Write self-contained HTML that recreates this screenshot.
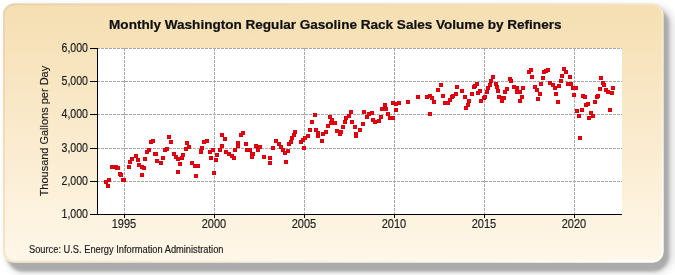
<!DOCTYPE html>
<html><head><meta charset="utf-8"><style>
html,body{margin:0;padding:0;background:#fff;width:675px;height:275px;overflow:hidden}
svg{display:block;will-change:transform}
text{font-family:"Liberation Sans",sans-serif}
</style></head><body>
<svg width="675" height="275" viewBox="0 0 675 275">
<defs>
<linearGradient id="bg" x1="0" y1="0" x2="0" y2="1">
<stop offset="0" stop-color="#f5deb1"/>
<stop offset="1" stop-color="#fff7e9"/>
</linearGradient>
<linearGradient id="rim" x1="0" y1="0" x2="1" y2="1">
<stop offset="0" stop-color="#e6d6ae"/>
<stop offset="0.45" stop-color="#f2e4c6"/>
<stop offset="1" stop-color="#ffffff"/>
</linearGradient>
<filter id="sh" x="-5%" y="-10%" width="115%" height="130%"><feGaussianBlur stdDeviation="3.5"/></filter>
<filter id="sh2" x="-5%" y="-10%" width="115%" height="130%"><feGaussianBlur stdDeviation="1.8"/></filter>
<filter id="soft" x="-2%" y="-2%" width="104%" height="104%"><feGaussianBlur stdDeviation="0.6"/></filter>
</defs>
<rect x="6" y="6" width="667" height="267" rx="18" ry="18" fill="#dadada" filter="url(#sh)"/>
<rect x="7" y="8" width="662" height="263.5" rx="16" ry="16" fill="#ababab" filter="url(#sh2)"/>
<g filter="url(#soft)">
<rect x="3" y="3.5" width="660.5" height="259" rx="11" ry="11" fill="url(#bg)"/>
<rect x="4" y="4.5" width="658.5" height="257" rx="10" ry="10" fill="none" stroke="url(#rim)" stroke-width="2"/>
</g>
<rect x="97" y="48" width="525" height="166" fill="#fff"/>
<g stroke="#a8a8a8" stroke-width="1" stroke-dasharray="3 1" fill="none">
<line x1="124.5" y1="48" x2="124.5" y2="214" /><line x1="214.5" y1="48" x2="214.5" y2="214" /><line x1="304.5" y1="48" x2="304.5" y2="214" /><line x1="394.5" y1="48" x2="394.5" y2="214" /><line x1="484.5" y1="48" x2="484.5" y2="214" /><line x1="574.5" y1="48" x2="574.5" y2="214" /><line x1="97" y1="181.5" x2="622" y2="181.5" /><line x1="97" y1="148.5" x2="622" y2="148.5" /><line x1="97" y1="114.5" x2="622" y2="114.5" /><line x1="97" y1="81.5" x2="622" y2="81.5" /><line x1="97" y1="48.5" x2="622" y2="48.5" />
</g>
<g fill="#f80010" shape-rendering="crispEdges">
<rect x="104" y="180" width="4" height="4" fill="#d2000f"/><rect x="105" y="181" width="2" height="2"/><rect x="106" y="184" width="4" height="4" fill="#d2000f"/><rect x="107" y="185" width="2" height="2"/><rect x="107" y="178" width="4" height="4" fill="#d2000f"/><rect x="108" y="179" width="2" height="2"/><rect x="110" y="165" width="4" height="4" fill="#d2000f"/><rect x="111" y="166" width="2" height="2"/><rect x="112" y="165" width="4" height="4" fill="#d2000f"/><rect x="113" y="166" width="2" height="2"/><rect x="114" y="165" width="4" height="4" fill="#d2000f"/><rect x="115" y="166" width="2" height="2"/><rect x="115" y="166" width="4" height="4" fill="#d2000f"/><rect x="116" y="167" width="2" height="2"/><rect x="116" y="166" width="4" height="4" fill="#d2000f"/><rect x="117" y="167" width="2" height="2"/><rect x="118" y="172" width="4" height="4" fill="#d2000f"/><rect x="119" y="173" width="2" height="2"/><rect x="119" y="173" width="4" height="4" fill="#d2000f"/><rect x="120" y="174" width="2" height="2"/><rect x="121" y="178" width="4" height="4" fill="#d2000f"/><rect x="122" y="179" width="2" height="2"/><rect x="122" y="178" width="4" height="4" fill="#d2000f"/><rect x="123" y="179" width="2" height="2"/><rect x="127" y="165" width="4" height="4" fill="#d2000f"/><rect x="128" y="166" width="2" height="2"/><rect x="128" y="160" width="4" height="4" fill="#d2000f"/><rect x="129" y="161" width="2" height="2"/><rect x="130" y="157" width="4" height="4" fill="#d2000f"/><rect x="131" y="158" width="2" height="2"/><rect x="134" y="154" width="4" height="4" fill="#d2000f"/><rect x="135" y="155" width="2" height="2"/><rect x="136" y="158" width="4" height="4" fill="#d2000f"/><rect x="137" y="159" width="2" height="2"/><rect x="137" y="163" width="4" height="4" fill="#d2000f"/><rect x="138" y="164" width="2" height="2"/><rect x="140" y="165" width="4" height="4" fill="#d2000f"/><rect x="141" y="166" width="2" height="2"/><rect x="140" y="173" width="4" height="4" fill="#d2000f"/><rect x="141" y="174" width="2" height="2"/><rect x="142" y="166" width="4" height="4" fill="#d2000f"/><rect x="143" y="167" width="2" height="2"/><rect x="143" y="157" width="4" height="4" fill="#d2000f"/><rect x="144" y="158" width="2" height="2"/><rect x="145" y="150" width="4" height="4" fill="#d2000f"/><rect x="146" y="151" width="2" height="2"/><rect x="147" y="148" width="4" height="4" fill="#d2000f"/><rect x="148" y="149" width="2" height="2"/><rect x="149" y="140" width="4" height="4" fill="#d2000f"/><rect x="150" y="141" width="2" height="2"/><rect x="151" y="139" width="4" height="4" fill="#d2000f"/><rect x="152" y="140" width="2" height="2"/><rect x="153" y="152" width="4" height="4" fill="#d2000f"/><rect x="154" y="153" width="2" height="2"/><rect x="154" y="152" width="4" height="4" fill="#d2000f"/><rect x="155" y="153" width="2" height="2"/><rect x="155" y="159" width="4" height="4" fill="#d2000f"/><rect x="156" y="160" width="2" height="2"/><rect x="159" y="161" width="4" height="4" fill="#d2000f"/><rect x="160" y="162" width="2" height="2"/><rect x="161" y="156" width="4" height="4" fill="#d2000f"/><rect x="162" y="157" width="2" height="2"/><rect x="163" y="148" width="4" height="4" fill="#d2000f"/><rect x="164" y="149" width="2" height="2"/><rect x="165" y="147" width="4" height="4" fill="#d2000f"/><rect x="166" y="148" width="2" height="2"/><rect x="167" y="135" width="4" height="4" fill="#d2000f"/><rect x="168" y="136" width="2" height="2"/><rect x="169" y="140" width="4" height="4" fill="#d2000f"/><rect x="170" y="141" width="2" height="2"/><rect x="172" y="152" width="4" height="4" fill="#d2000f"/><rect x="173" y="153" width="2" height="2"/><rect x="174" y="155" width="4" height="4" fill="#d2000f"/><rect x="175" y="156" width="2" height="2"/><rect x="176" y="170" width="4" height="4" fill="#d2000f"/><rect x="177" y="171" width="2" height="2"/><rect x="176" y="157" width="4" height="4" fill="#d2000f"/><rect x="177" y="158" width="2" height="2"/><rect x="178" y="162" width="4" height="4" fill="#d2000f"/><rect x="179" y="163" width="2" height="2"/><rect x="180" y="156" width="4" height="4" fill="#d2000f"/><rect x="181" y="157" width="2" height="2"/><rect x="181" y="153" width="4" height="4" fill="#d2000f"/><rect x="182" y="154" width="2" height="2"/><rect x="184" y="147" width="4" height="4" fill="#d2000f"/><rect x="185" y="148" width="2" height="2"/><rect x="185" y="141" width="4" height="4" fill="#d2000f"/><rect x="186" y="142" width="2" height="2"/><rect x="187" y="145" width="4" height="4" fill="#d2000f"/><rect x="188" y="146" width="2" height="2"/><rect x="190" y="161" width="4" height="4" fill="#d2000f"/><rect x="191" y="162" width="2" height="2"/><rect x="193" y="164" width="4" height="4" fill="#d2000f"/><rect x="194" y="165" width="2" height="2"/><rect x="194" y="174" width="4" height="4" fill="#d2000f"/><rect x="195" y="175" width="2" height="2"/><rect x="196" y="164" width="4" height="4" fill="#d2000f"/><rect x="197" y="165" width="2" height="2"/><rect x="199" y="150" width="4" height="4" fill="#d2000f"/><rect x="200" y="151" width="2" height="2"/><rect x="199" y="149" width="4" height="4" fill="#d2000f"/><rect x="200" y="150" width="2" height="2"/><rect x="200" y="146" width="4" height="4" fill="#d2000f"/><rect x="201" y="147" width="2" height="2"/><rect x="202" y="140" width="4" height="4" fill="#d2000f"/><rect x="203" y="141" width="2" height="2"/><rect x="205" y="139" width="4" height="4" fill="#d2000f"/><rect x="206" y="140" width="2" height="2"/><rect x="208" y="150" width="4" height="4" fill="#d2000f"/><rect x="209" y="151" width="2" height="2"/><rect x="209" y="156" width="4" height="4" fill="#d2000f"/><rect x="210" y="157" width="2" height="2"/><rect x="211" y="148" width="4" height="4" fill="#d2000f"/><rect x="212" y="149" width="2" height="2"/><rect x="212" y="171" width="4" height="4" fill="#d2000f"/><rect x="213" y="172" width="2" height="2"/><rect x="214" y="158" width="4" height="4" fill="#d2000f"/><rect x="215" y="159" width="2" height="2"/><rect x="215" y="153" width="4" height="4" fill="#d2000f"/><rect x="216" y="154" width="2" height="2"/><rect x="218" y="148" width="4" height="4" fill="#d2000f"/><rect x="219" y="149" width="2" height="2"/><rect x="220" y="144" width="4" height="4" fill="#d2000f"/><rect x="221" y="145" width="2" height="2"/><rect x="220" y="133" width="4" height="4" fill="#d2000f"/><rect x="221" y="134" width="2" height="2"/><rect x="223" y="137" width="4" height="4" fill="#d2000f"/><rect x="224" y="138" width="2" height="2"/><rect x="224" y="150" width="4" height="4" fill="#d2000f"/><rect x="225" y="151" width="2" height="2"/><rect x="227" y="152" width="4" height="4" fill="#d2000f"/><rect x="228" y="153" width="2" height="2"/><rect x="230" y="154" width="4" height="4" fill="#d2000f"/><rect x="231" y="155" width="2" height="2"/><rect x="232" y="156" width="4" height="4" fill="#d2000f"/><rect x="233" y="157" width="2" height="2"/><rect x="233" y="148" width="4" height="4" fill="#d2000f"/><rect x="234" y="149" width="2" height="2"/><rect x="236" y="144" width="4" height="4" fill="#d2000f"/><rect x="237" y="145" width="2" height="2"/><rect x="236" y="141" width="4" height="4" fill="#d2000f"/><rect x="237" y="142" width="2" height="2"/><rect x="239" y="133" width="4" height="4" fill="#d2000f"/><rect x="240" y="134" width="2" height="2"/><rect x="241" y="131" width="4" height="4" fill="#d2000f"/><rect x="242" y="132" width="2" height="2"/><rect x="244" y="142" width="4" height="4" fill="#d2000f"/><rect x="245" y="143" width="2" height="2"/><rect x="245" y="148" width="4" height="4" fill="#d2000f"/><rect x="246" y="149" width="2" height="2"/><rect x="248" y="148" width="4" height="4" fill="#d2000f"/><rect x="249" y="149" width="2" height="2"/><rect x="250" y="155" width="4" height="4" fill="#d2000f"/><rect x="251" y="156" width="2" height="2"/><rect x="250" y="152" width="4" height="4" fill="#d2000f"/><rect x="251" y="153" width="2" height="2"/><rect x="251" y="152" width="4" height="4" fill="#d2000f"/><rect x="252" y="153" width="2" height="2"/><rect x="254" y="144" width="4" height="4" fill="#d2000f"/><rect x="255" y="145" width="2" height="2"/><rect x="256" y="148" width="4" height="4" fill="#d2000f"/><rect x="257" y="149" width="2" height="2"/><rect x="258" y="145" width="4" height="4" fill="#d2000f"/><rect x="259" y="146" width="2" height="2"/><rect x="262" y="155" width="4" height="4" fill="#d2000f"/><rect x="263" y="156" width="2" height="2"/><rect x="268" y="161" width="4" height="4" fill="#d2000f"/><rect x="269" y="162" width="2" height="2"/><rect x="268" y="156" width="4" height="4" fill="#d2000f"/><rect x="269" y="157" width="2" height="2"/><rect x="271" y="146" width="4" height="4" fill="#d2000f"/><rect x="272" y="147" width="2" height="2"/><rect x="274" y="139" width="4" height="4" fill="#d2000f"/><rect x="275" y="140" width="2" height="2"/><rect x="277" y="142" width="4" height="4" fill="#d2000f"/><rect x="278" y="143" width="2" height="2"/><rect x="279" y="145" width="4" height="4" fill="#d2000f"/><rect x="280" y="146" width="2" height="2"/><rect x="281" y="148" width="4" height="4" fill="#d2000f"/><rect x="282" y="149" width="2" height="2"/><rect x="283" y="151" width="4" height="4" fill="#d2000f"/><rect x="284" y="152" width="2" height="2"/><rect x="284" y="160" width="4" height="4" fill="#d2000f"/><rect x="285" y="161" width="2" height="2"/><rect x="286" y="149" width="4" height="4" fill="#d2000f"/><rect x="287" y="150" width="2" height="2"/><rect x="287" y="142" width="4" height="4" fill="#d2000f"/><rect x="288" y="143" width="2" height="2"/><rect x="289" y="140" width="4" height="4" fill="#d2000f"/><rect x="290" y="141" width="2" height="2"/><rect x="290" y="136" width="4" height="4" fill="#d2000f"/><rect x="291" y="137" width="2" height="2"/><rect x="292" y="133" width="4" height="4" fill="#d2000f"/><rect x="293" y="134" width="2" height="2"/><rect x="293" y="130" width="4" height="4" fill="#d2000f"/><rect x="294" y="131" width="2" height="2"/><rect x="299" y="140" width="4" height="4" fill="#d2000f"/><rect x="300" y="141" width="2" height="2"/><rect x="301" y="138" width="4" height="4" fill="#d2000f"/><rect x="302" y="139" width="2" height="2"/><rect x="302" y="146" width="4" height="4" fill="#d2000f"/><rect x="303" y="147" width="2" height="2"/><rect x="303" y="136" width="4" height="4" fill="#d2000f"/><rect x="304" y="137" width="2" height="2"/><rect x="306" y="134" width="4" height="4" fill="#d2000f"/><rect x="307" y="135" width="2" height="2"/><rect x="308" y="128" width="4" height="4" fill="#d2000f"/><rect x="309" y="129" width="2" height="2"/><rect x="310" y="120" width="4" height="4" fill="#d2000f"/><rect x="311" y="121" width="2" height="2"/><rect x="313" y="113" width="4" height="4" fill="#d2000f"/><rect x="314" y="114" width="2" height="2"/><rect x="314" y="128" width="4" height="4" fill="#d2000f"/><rect x="315" y="129" width="2" height="2"/><rect x="316" y="134" width="4" height="4" fill="#d2000f"/><rect x="317" y="135" width="2" height="2"/><rect x="316" y="131" width="4" height="4" fill="#d2000f"/><rect x="317" y="132" width="2" height="2"/><rect x="320" y="139" width="4" height="4" fill="#d2000f"/><rect x="321" y="140" width="2" height="2"/><rect x="321" y="132" width="4" height="4" fill="#d2000f"/><rect x="322" y="133" width="2" height="2"/><rect x="324" y="130" width="4" height="4" fill="#d2000f"/><rect x="325" y="131" width="2" height="2"/><rect x="326" y="124" width="4" height="4" fill="#d2000f"/><rect x="327" y="125" width="2" height="2"/><rect x="328" y="115" width="4" height="4" fill="#d2000f"/><rect x="329" y="116" width="2" height="2"/><rect x="329" y="121" width="4" height="4" fill="#d2000f"/><rect x="330" y="122" width="2" height="2"/><rect x="330" y="118" width="4" height="4" fill="#d2000f"/><rect x="331" y="119" width="2" height="2"/><rect x="333" y="121" width="4" height="4" fill="#d2000f"/><rect x="334" y="122" width="2" height="2"/><rect x="335" y="129" width="4" height="4" fill="#d2000f"/><rect x="336" y="130" width="2" height="2"/><rect x="338" y="132" width="4" height="4" fill="#d2000f"/><rect x="339" y="133" width="2" height="2"/><rect x="339" y="130" width="4" height="4" fill="#d2000f"/><rect x="340" y="131" width="2" height="2"/><rect x="341" y="125" width="4" height="4" fill="#d2000f"/><rect x="342" y="126" width="2" height="2"/><rect x="343" y="120" width="4" height="4" fill="#d2000f"/><rect x="344" y="121" width="2" height="2"/><rect x="344" y="116" width="4" height="4" fill="#d2000f"/><rect x="345" y="117" width="2" height="2"/><rect x="347" y="114" width="4" height="4" fill="#d2000f"/><rect x="348" y="115" width="2" height="2"/><rect x="349" y="110" width="4" height="4" fill="#d2000f"/><rect x="350" y="111" width="2" height="2"/><rect x="350" y="120" width="4" height="4" fill="#d2000f"/><rect x="351" y="121" width="2" height="2"/><rect x="353" y="125" width="4" height="4" fill="#d2000f"/><rect x="354" y="126" width="2" height="2"/><rect x="354" y="134" width="4" height="4" fill="#d2000f"/><rect x="355" y="135" width="2" height="2"/><rect x="354" y="132" width="4" height="4" fill="#d2000f"/><rect x="355" y="133" width="2" height="2"/><rect x="354" y="133" width="4" height="4" fill="#d2000f"/><rect x="355" y="134" width="2" height="2"/><rect x="358" y="128" width="4" height="4" fill="#d2000f"/><rect x="359" y="129" width="2" height="2"/><rect x="361" y="122" width="4" height="4" fill="#d2000f"/><rect x="362" y="123" width="2" height="2"/><rect x="362" y="110" width="4" height="4" fill="#d2000f"/><rect x="363" y="111" width="2" height="2"/><rect x="365" y="115" width="4" height="4" fill="#d2000f"/><rect x="366" y="116" width="2" height="2"/><rect x="367" y="112" width="4" height="4" fill="#d2000f"/><rect x="368" y="113" width="2" height="2"/><rect x="370" y="111" width="4" height="4" fill="#d2000f"/><rect x="371" y="112" width="2" height="2"/><rect x="371" y="118" width="4" height="4" fill="#d2000f"/><rect x="372" y="119" width="2" height="2"/><rect x="373" y="120" width="4" height="4" fill="#d2000f"/><rect x="374" y="121" width="2" height="2"/><rect x="377" y="119" width="4" height="4" fill="#d2000f"/><rect x="378" y="120" width="2" height="2"/><rect x="379" y="115" width="4" height="4" fill="#d2000f"/><rect x="380" y="116" width="2" height="2"/><rect x="380" y="107" width="4" height="4" fill="#d2000f"/><rect x="381" y="108" width="2" height="2"/><rect x="383" y="103" width="4" height="4" fill="#d2000f"/><rect x="384" y="104" width="2" height="2"/><rect x="384" y="107" width="4" height="4" fill="#d2000f"/><rect x="385" y="108" width="2" height="2"/><rect x="386" y="112" width="4" height="4" fill="#d2000f"/><rect x="387" y="113" width="2" height="2"/><rect x="388" y="116" width="4" height="4" fill="#d2000f"/><rect x="389" y="117" width="2" height="2"/><rect x="391" y="101" width="4" height="4" fill="#d2000f"/><rect x="392" y="102" width="2" height="2"/><rect x="391" y="116" width="4" height="4" fill="#d2000f"/><rect x="392" y="117" width="2" height="2"/><rect x="394" y="102" width="4" height="4" fill="#d2000f"/><rect x="395" y="103" width="2" height="2"/><rect x="394" y="108" width="4" height="4" fill="#d2000f"/><rect x="395" y="109" width="2" height="2"/><rect x="397" y="101" width="4" height="4" fill="#d2000f"/><rect x="398" y="102" width="2" height="2"/><rect x="406" y="100" width="4" height="4" fill="#d2000f"/><rect x="407" y="101" width="2" height="2"/><rect x="416" y="95" width="4" height="4" fill="#d2000f"/><rect x="417" y="96" width="2" height="2"/><rect x="425" y="95" width="4" height="4" fill="#d2000f"/><rect x="426" y="96" width="2" height="2"/><rect x="428" y="94" width="4" height="4" fill="#d2000f"/><rect x="429" y="95" width="2" height="2"/><rect x="428" y="112" width="4" height="4" fill="#d2000f"/><rect x="429" y="113" width="2" height="2"/><rect x="430" y="96" width="4" height="4" fill="#d2000f"/><rect x="431" y="97" width="2" height="2"/><rect x="432" y="100" width="4" height="4" fill="#d2000f"/><rect x="433" y="101" width="2" height="2"/><rect x="436" y="88" width="4" height="4" fill="#d2000f"/><rect x="437" y="89" width="2" height="2"/><rect x="439" y="83" width="4" height="4" fill="#d2000f"/><rect x="440" y="84" width="2" height="2"/><rect x="441" y="94" width="4" height="4" fill="#d2000f"/><rect x="442" y="95" width="2" height="2"/><rect x="443" y="101" width="4" height="4" fill="#d2000f"/><rect x="444" y="102" width="2" height="2"/><rect x="446" y="101" width="4" height="4" fill="#d2000f"/><rect x="447" y="102" width="2" height="2"/><rect x="448" y="98" width="4" height="4" fill="#d2000f"/><rect x="449" y="99" width="2" height="2"/><rect x="450" y="95" width="4" height="4" fill="#d2000f"/><rect x="451" y="96" width="2" height="2"/><rect x="451" y="94" width="4" height="4" fill="#d2000f"/><rect x="452" y="95" width="2" height="2"/><rect x="454" y="92" width="4" height="4" fill="#d2000f"/><rect x="455" y="93" width="2" height="2"/><rect x="455" y="85" width="4" height="4" fill="#d2000f"/><rect x="456" y="86" width="2" height="2"/><rect x="460" y="89" width="4" height="4" fill="#d2000f"/><rect x="461" y="90" width="2" height="2"/><rect x="463" y="95" width="4" height="4" fill="#d2000f"/><rect x="464" y="96" width="2" height="2"/><rect x="464" y="106" width="4" height="4" fill="#d2000f"/><rect x="465" y="107" width="2" height="2"/><rect x="466" y="103" width="4" height="4" fill="#d2000f"/><rect x="467" y="104" width="2" height="2"/><rect x="467" y="99" width="4" height="4" fill="#d2000f"/><rect x="468" y="100" width="2" height="2"/><rect x="470" y="92" width="4" height="4" fill="#d2000f"/><rect x="471" y="93" width="2" height="2"/><rect x="472" y="85" width="4" height="4" fill="#d2000f"/><rect x="473" y="86" width="2" height="2"/><rect x="473" y="84" width="4" height="4" fill="#d2000f"/><rect x="474" y="85" width="2" height="2"/><rect x="475" y="82" width="4" height="4" fill="#d2000f"/><rect x="476" y="83" width="2" height="2"/><rect x="476" y="91" width="4" height="4" fill="#d2000f"/><rect x="477" y="92" width="2" height="2"/><rect x="478" y="89" width="4" height="4" fill="#d2000f"/><rect x="479" y="90" width="2" height="2"/><rect x="479" y="99" width="4" height="4" fill="#d2000f"/><rect x="480" y="100" width="2" height="2"/><rect x="482" y="96" width="4" height="4" fill="#d2000f"/><rect x="483" y="97" width="2" height="2"/><rect x="483" y="95" width="4" height="4" fill="#d2000f"/><rect x="484" y="96" width="2" height="2"/><rect x="485" y="90" width="4" height="4" fill="#d2000f"/><rect x="486" y="91" width="2" height="2"/><rect x="486" y="86" width="4" height="4" fill="#d2000f"/><rect x="487" y="87" width="2" height="2"/><rect x="488" y="83" width="4" height="4" fill="#d2000f"/><rect x="489" y="84" width="2" height="2"/><rect x="489" y="79" width="4" height="4" fill="#d2000f"/><rect x="490" y="80" width="2" height="2"/><rect x="491" y="75" width="4" height="4" fill="#d2000f"/><rect x="492" y="76" width="2" height="2"/><rect x="494" y="82" width="4" height="4" fill="#d2000f"/><rect x="495" y="83" width="2" height="2"/><rect x="495" y="85" width="4" height="4" fill="#d2000f"/><rect x="496" y="86" width="2" height="2"/><rect x="496" y="89" width="4" height="4" fill="#d2000f"/><rect x="497" y="90" width="2" height="2"/><rect x="497" y="95" width="4" height="4" fill="#d2000f"/><rect x="498" y="96" width="2" height="2"/><rect x="500" y="99" width="4" height="4" fill="#d2000f"/><rect x="501" y="100" width="2" height="2"/><rect x="501" y="96" width="4" height="4" fill="#d2000f"/><rect x="502" y="97" width="2" height="2"/><rect x="502" y="96" width="4" height="4" fill="#d2000f"/><rect x="503" y="97" width="2" height="2"/><rect x="503" y="90" width="4" height="4" fill="#d2000f"/><rect x="504" y="91" width="2" height="2"/><rect x="505" y="87" width="4" height="4" fill="#d2000f"/><rect x="506" y="88" width="2" height="2"/><rect x="508" y="77" width="4" height="4" fill="#d2000f"/><rect x="509" y="78" width="2" height="2"/><rect x="509" y="79" width="4" height="4" fill="#d2000f"/><rect x="510" y="80" width="2" height="2"/><rect x="512" y="85" width="4" height="4" fill="#d2000f"/><rect x="513" y="86" width="2" height="2"/><rect x="515" y="86" width="4" height="4" fill="#d2000f"/><rect x="516" y="87" width="2" height="2"/><rect x="515" y="90" width="4" height="4" fill="#d2000f"/><rect x="516" y="91" width="2" height="2"/><rect x="518" y="90" width="4" height="4" fill="#d2000f"/><rect x="519" y="91" width="2" height="2"/><rect x="518" y="99" width="4" height="4" fill="#d2000f"/><rect x="519" y="100" width="2" height="2"/><rect x="520" y="95" width="4" height="4" fill="#d2000f"/><rect x="521" y="96" width="2" height="2"/><rect x="521" y="86" width="4" height="4" fill="#d2000f"/><rect x="522" y="87" width="2" height="2"/><rect x="527" y="70" width="4" height="4" fill="#d2000f"/><rect x="528" y="71" width="2" height="2"/><rect x="529" y="68" width="4" height="4" fill="#d2000f"/><rect x="530" y="69" width="2" height="2"/><rect x="530" y="75" width="4" height="4" fill="#d2000f"/><rect x="531" y="76" width="2" height="2"/><rect x="533" y="85" width="4" height="4" fill="#d2000f"/><rect x="534" y="86" width="2" height="2"/><rect x="535" y="88" width="4" height="4" fill="#d2000f"/><rect x="536" y="89" width="2" height="2"/><rect x="536" y="97" width="4" height="4" fill="#d2000f"/><rect x="537" y="98" width="2" height="2"/><rect x="538" y="92" width="4" height="4" fill="#d2000f"/><rect x="539" y="93" width="2" height="2"/><rect x="539" y="82" width="4" height="4" fill="#d2000f"/><rect x="540" y="83" width="2" height="2"/><rect x="541" y="76" width="4" height="4" fill="#d2000f"/><rect x="542" y="77" width="2" height="2"/><rect x="542" y="70" width="4" height="4" fill="#d2000f"/><rect x="543" y="71" width="2" height="2"/><rect x="544" y="69" width="4" height="4" fill="#d2000f"/><rect x="545" y="70" width="2" height="2"/><rect x="546" y="68" width="4" height="4" fill="#d2000f"/><rect x="547" y="69" width="2" height="2"/><rect x="548" y="81" width="4" height="4" fill="#d2000f"/><rect x="549" y="82" width="2" height="2"/><rect x="551" y="83" width="4" height="4" fill="#d2000f"/><rect x="552" y="84" width="2" height="2"/><rect x="553" y="86" width="4" height="4" fill="#d2000f"/><rect x="554" y="87" width="2" height="2"/><rect x="554" y="92" width="4" height="4" fill="#d2000f"/><rect x="555" y="93" width="2" height="2"/><rect x="556" y="100" width="4" height="4" fill="#d2000f"/><rect x="557" y="101" width="2" height="2"/><rect x="557" y="84" width="4" height="4" fill="#d2000f"/><rect x="558" y="85" width="2" height="2"/><rect x="559" y="79" width="4" height="4" fill="#d2000f"/><rect x="560" y="80" width="2" height="2"/><rect x="560" y="74" width="4" height="4" fill="#d2000f"/><rect x="561" y="75" width="2" height="2"/><rect x="562" y="67" width="4" height="4" fill="#d2000f"/><rect x="563" y="68" width="2" height="2"/><rect x="564" y="70" width="4" height="4" fill="#d2000f"/><rect x="565" y="71" width="2" height="2"/><rect x="566" y="82" width="4" height="4" fill="#d2000f"/><rect x="567" y="83" width="2" height="2"/><rect x="568" y="75" width="4" height="4" fill="#d2000f"/><rect x="569" y="76" width="2" height="2"/><rect x="569" y="82" width="4" height="4" fill="#d2000f"/><rect x="570" y="83" width="2" height="2"/><rect x="571" y="86" width="4" height="4" fill="#d2000f"/><rect x="572" y="87" width="2" height="2"/><rect x="572" y="93" width="4" height="4" fill="#d2000f"/><rect x="573" y="94" width="2" height="2"/><rect x="574" y="86" width="4" height="4" fill="#d2000f"/><rect x="575" y="87" width="2" height="2"/><rect x="575" y="109" width="4" height="4" fill="#d2000f"/><rect x="576" y="110" width="2" height="2"/><rect x="577" y="114" width="4" height="4" fill="#d2000f"/><rect x="578" y="115" width="2" height="2"/><rect x="578" y="136" width="4" height="4" fill="#d2000f"/><rect x="579" y="137" width="2" height="2"/><rect x="580" y="108" width="4" height="4" fill="#d2000f"/><rect x="581" y="109" width="2" height="2"/><rect x="581" y="94" width="4" height="4" fill="#d2000f"/><rect x="582" y="95" width="2" height="2"/><rect x="583" y="95" width="4" height="4" fill="#d2000f"/><rect x="584" y="96" width="2" height="2"/><rect x="584" y="103" width="4" height="4" fill="#d2000f"/><rect x="585" y="104" width="2" height="2"/><rect x="586" y="102" width="4" height="4" fill="#d2000f"/><rect x="587" y="103" width="2" height="2"/><rect x="587" y="116" width="4" height="4" fill="#d2000f"/><rect x="588" y="117" width="2" height="2"/><rect x="589" y="111" width="4" height="4" fill="#d2000f"/><rect x="590" y="112" width="2" height="2"/><rect x="591" y="114" width="4" height="4" fill="#d2000f"/><rect x="592" y="115" width="2" height="2"/><rect x="593" y="100" width="4" height="4" fill="#d2000f"/><rect x="594" y="101" width="2" height="2"/><rect x="595" y="95" width="4" height="4" fill="#d2000f"/><rect x="596" y="96" width="2" height="2"/><rect x="596" y="94" width="4" height="4" fill="#d2000f"/><rect x="597" y="95" width="2" height="2"/><rect x="598" y="87" width="4" height="4" fill="#d2000f"/><rect x="599" y="88" width="2" height="2"/><rect x="599" y="76" width="4" height="4" fill="#d2000f"/><rect x="600" y="77" width="2" height="2"/><rect x="601" y="81" width="4" height="4" fill="#d2000f"/><rect x="602" y="82" width="2" height="2"/><rect x="602" y="83" width="4" height="4" fill="#d2000f"/><rect x="603" y="84" width="2" height="2"/><rect x="604" y="88" width="4" height="4" fill="#d2000f"/><rect x="605" y="89" width="2" height="2"/><rect x="606" y="90" width="4" height="4" fill="#d2000f"/><rect x="607" y="91" width="2" height="2"/><rect x="608" y="108" width="4" height="4" fill="#d2000f"/><rect x="609" y="109" width="2" height="2"/><rect x="610" y="91" width="4" height="4" fill="#d2000f"/><rect x="611" y="92" width="2" height="2"/><rect x="611" y="86" width="4" height="4" fill="#d2000f"/><rect x="612" y="87" width="2" height="2"/>
</g>
<g stroke="#000" stroke-width="1" fill="none" shape-rendering="crispEdges">
<line x1="97.5" y1="48" x2="97.5" y2="215"/>
<line x1="97" y1="214.5" x2="622" y2="214.5"/>
<line x1="90" y1="214.5" x2="97" y2="214.5" /><line x1="90" y1="181.5" x2="97" y2="181.5" /><line x1="90" y1="148.5" x2="97" y2="148.5" /><line x1="90" y1="114.5" x2="97" y2="114.5" /><line x1="90" y1="81.5" x2="97" y2="81.5" /><line x1="90" y1="48.5" x2="97" y2="48.5" /><line x1="124.5" y1="214" x2="124.5" y2="218" /><line x1="214.5" y1="214" x2="214.5" y2="218" /><line x1="304.5" y1="214" x2="304.5" y2="218" /><line x1="394.5" y1="214" x2="394.5" y2="218" /><line x1="484.5" y1="214" x2="484.5" y2="218" /><line x1="574.5" y1="214" x2="574.5" y2="218" />
</g>
<g font-size="12" fill="#1a1a1a" stroke="#1a1a1a" stroke-width="0.15">
<text x="88" y="218" text-anchor="end" textLength="26.5" lengthAdjust="spacingAndGlyphs">1,000</text><text x="88" y="185" text-anchor="end" textLength="26.5" lengthAdjust="spacingAndGlyphs">2,000</text><text x="88" y="152" text-anchor="end" textLength="26.5" lengthAdjust="spacingAndGlyphs">3,000</text><text x="88" y="118" text-anchor="end" textLength="26.5" lengthAdjust="spacingAndGlyphs">4,000</text><text x="88" y="85" text-anchor="end" textLength="26.5" lengthAdjust="spacingAndGlyphs">5,000</text><text x="88" y="52" text-anchor="end" textLength="26.5" lengthAdjust="spacingAndGlyphs">6,000</text><text x="124" y="227.5" text-anchor="middle" textLength="24.5" lengthAdjust="spacingAndGlyphs">1995</text><text x="214" y="227.5" text-anchor="middle" textLength="24.5" lengthAdjust="spacingAndGlyphs">2000</text><text x="304" y="227.5" text-anchor="middle" textLength="24.5" lengthAdjust="spacingAndGlyphs">2005</text><text x="394" y="227.5" text-anchor="middle" textLength="24.5" lengthAdjust="spacingAndGlyphs">2010</text><text x="484" y="227.5" text-anchor="middle" textLength="24.5" lengthAdjust="spacingAndGlyphs">2015</text><text x="574" y="227.5" text-anchor="middle" textLength="24.5" lengthAdjust="spacingAndGlyphs">2020</text>
</g>
<text x="335.3" y="28.7" text-anchor="middle" font-size="13.55" font-weight="bold" fill="#111" stroke="#111" stroke-width="0.22">Monthly Washington Regular Gasoline Rack Sales Volume by Refiners</text>
<text transform="translate(47.6,131.1) rotate(-90)" text-anchor="middle" font-size="11.6" textLength="130.5" lengthAdjust="spacingAndGlyphs" fill="#1a1a1a" stroke="#1a1a1a" stroke-width="0.15">Thousand Gallons per Day</text>
<text x="29" y="252.6" font-size="10" textLength="194.5" lengthAdjust="spacingAndGlyphs" fill="#1a1a1a" stroke="#1a1a1a" stroke-width="0.15">Source: U.S. Energy Information Administration</text>
</svg>
</body></html>
